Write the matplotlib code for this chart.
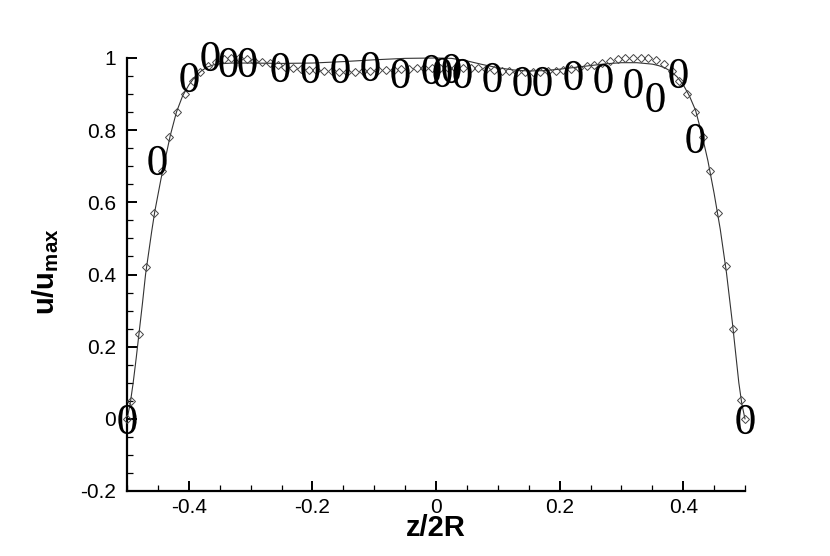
import matplotlib
matplotlib.use("Agg")
import matplotlib.pyplot as plt
from matplotlib.ticker import MultipleLocator, FuncFormatter

plt.rcParams['font.family'] = ['Liberation Sans', 'DejaVu Sans']
plt.rcParams['axes.unicode_minus'] = False
plt.rcParams['mathtext.fontset'] = 'custom'
plt.rcParams['mathtext.rm'] = 'Liberation Serif'
plt.rcParams['mathtext.it'] = 'Liberation Serif:italic'
plt.rcParams['mathtext.bf'] = 'Liberation Sans:bold'

# ---- data ----
# simulation profile (diamonds)
sim_x = [-0.5, -0.49375, -0.48125, -0.46875, -0.45625, -0.44375, -0.43125, -0.41875,
         -0.40625, -0.39375, -0.38125, -0.36875, -0.35625, -0.34375, -0.33125, -0.31875,
         -0.30625, -0.29375, -0.28125, -0.26875, -0.25625, -0.24375, -0.23125, -0.21875,
         -0.20625, -0.19375, -0.18125, -0.16875, -0.15625, -0.14375, -0.13125, -0.11875,
         -0.10625, -0.09375, -0.08125, -0.06875, -0.05625, -0.04375, -0.03125, -0.01875,
         -0.00625, 0.00625, 0.01875, 0.03125, 0.04375, 0.05625, 0.06875, 0.08125,
         0.09375, 0.10625, 0.11875, 0.13125, 0.14375, 0.15625, 0.16875, 0.18125,
         0.19375, 0.20625, 0.21875, 0.23125, 0.24375, 0.25625, 0.26875, 0.28125,
         0.29375, 0.30625, 0.31875, 0.33125, 0.34375, 0.35625, 0.36875, 0.38125,
         0.39375, 0.40625, 0.41875, 0.43125, 0.44375, 0.45625, 0.46875, 0.48125,
         0.49375, 0.5]
sim_u = [0.0, 0.05, 0.235, 0.42, 0.57, 0.686, 0.78, 0.85,
         0.90, 0.937, 0.962, 0.979, 0.99, 0.996, 0.999, 0.999,
         0.997, 0.993, 0.989, 0.985, 0.980, 0.976, 0.973, 0.970,
         0.968, 0.966, 0.964, 0.963, 0.962, 0.962, 0.962, 0.963,
         0.964, 0.966, 0.967, 0.968, 0.969, 0.970, 0.971, 0.972,
         0.973, 0.973, 0.973, 0.973, 0.973, 0.972, 0.971, 0.969,
         0.967, 0.965, 0.963, 0.962, 0.961, 0.961, 0.962, 0.963,
         0.965, 0.967, 0.970, 0.973, 0.977, 0.981, 0.986, 0.991,
         0.996, 0.999, 1.0, 1.0, 0.999, 0.994, 0.982, 0.963,
         0.937, 0.90, 0.85, 0.78, 0.688, 0.57, 0.423, 0.249,
         0.053, 0.0]

# fitted curve (solid line)
fit_x = [-0.5, -0.495, -0.49, -0.485, -0.48, -0.475, -0.47, -0.465, -0.46, -0.455,
         -0.45, -0.445, -0.44, -0.43, -0.42, -0.41, -0.40, -0.39, -0.38, -0.37,
         -0.36, -0.35, -0.33, -0.30, -0.25, -0.20, -0.15, -0.10, -0.05, 0.0,
         0.025, 0.05, 0.075, 0.10, 0.125, 0.15, 0.175, 0.20, 0.225, 0.25,
         0.275, 0.30, 0.325, 0.35, 0.36, 0.37, 0.38, 0.39, 0.40, 0.41,
         0.42, 0.43, 0.44, 0.45, 0.46, 0.47, 0.48, 0.49, 0.495, 0.5]
fit_u = [0.0, 0.04, 0.10, 0.17, 0.245, 0.32, 0.40, 0.46, 0.52, 0.575,
         0.62, 0.665, 0.705, 0.785, 0.85, 0.895, 0.925, 0.948, 0.964, 0.975,
         0.981, 0.984, 0.986, 0.986, 0.985, 0.986, 0.990, 0.995, 0.999, 1.0,
         0.999, 0.992, 0.982, 0.973, 0.967, 0.964, 0.965, 0.969, 0.974, 0.979,
         0.984, 0.987, 0.987, 0.983, 0.979, 0.973, 0.963, 0.948, 0.926, 0.895,
         0.855, 0.79, 0.715, 0.625, 0.525, 0.405, 0.26, 0.10, 0.04, 0.0]

# experimental points ("0" symbols)
exp_x = [-0.5, -0.452, -0.399, -0.366, -0.336, -0.306, -0.252, -0.204, -0.155,
         -0.107, -0.058, -0.008, 0.009, 0.025, 0.042, 0.090, 0.139, 0.171,
         0.222, 0.271, 0.319, 0.354, 0.392, 0.419, 0.5]
exp_u = [0.0, 0.717, 0.948, 1.005, 0.99, 0.99, 0.976, 0.972, 0.972,
         0.978, 0.958, 0.970, 0.962, 0.972, 0.958, 0.948, 0.935, 0.935,
         0.953, 0.944, 0.932, 0.893, 0.958, 0.778, 0.0]

x_ticks = [-0.4, -0.2, 0.0, 0.2, 0.4]
y_ticks = [-0.2, 0.0, 0.2, 0.4, 0.6, 0.8, 1.0]

# ---- figure ----
fig = plt.figure(figsize=(8.3, 5.56), dpi=100)
ax = fig.add_axes([127/830, 65/556, 618/830, 433/556])

ax.plot(fit_x, fit_u, color='#333333', lw=0.8, zorder=2, clip_on=False)
ax.plot(sim_x, sim_u, ls='none', marker='D', ms=4.2, mfc='none', mec='#444444',
        mew=0.7, zorder=3, clip_on=False)
ax.plot(exp_x, exp_u, ls='none', marker=r'$\mathrm{0}$', ms=21, color='black',
        mew=0, zorder=4, clip_on=False)

ax.set_xlim(-0.5, 0.5)
ax.set_ylim(-0.2, 1.0)
for s in ('top', 'right'):
    ax.spines[s].set_visible(False)
for s in ('left', 'bottom'):
    ax.spines[s].set_linewidth(1.6)

ax.set_xticks(x_ticks)
ax.set_yticks(y_ticks)
ax.xaxis.set_minor_locator(MultipleLocator(0.05))
ax.yaxis.set_minor_locator(MultipleLocator(0.05))
fmt = FuncFormatter(lambda v, p: f'{v:g}' if abs(v) > 1e-9 else '0')
ax.xaxis.set_major_formatter(fmt)
ax.yaxis.set_major_formatter(fmt)
ax.tick_params(which='major', direction='in', length=7, width=1.4, labelsize=15)
ax.tick_params(which='minor', direction='in', length=4, width=0.9)
ax.tick_params(axis='x', which='major', pad=5)
ax.tick_params(axis='y', which='major', pad=8)

ax.set_xlabel('z/2R', fontsize=21, fontweight='bold', va='center')
ax.xaxis.set_label_coords(0.5, -0.086)
ax.set_ylabel(r'$\mathbf{u/u_{max}}$', fontsize=21, va='center')
ax.yaxis.set_label_coords(-0.131, 0.506)

fig.savefig('out.png', dpi=100)
